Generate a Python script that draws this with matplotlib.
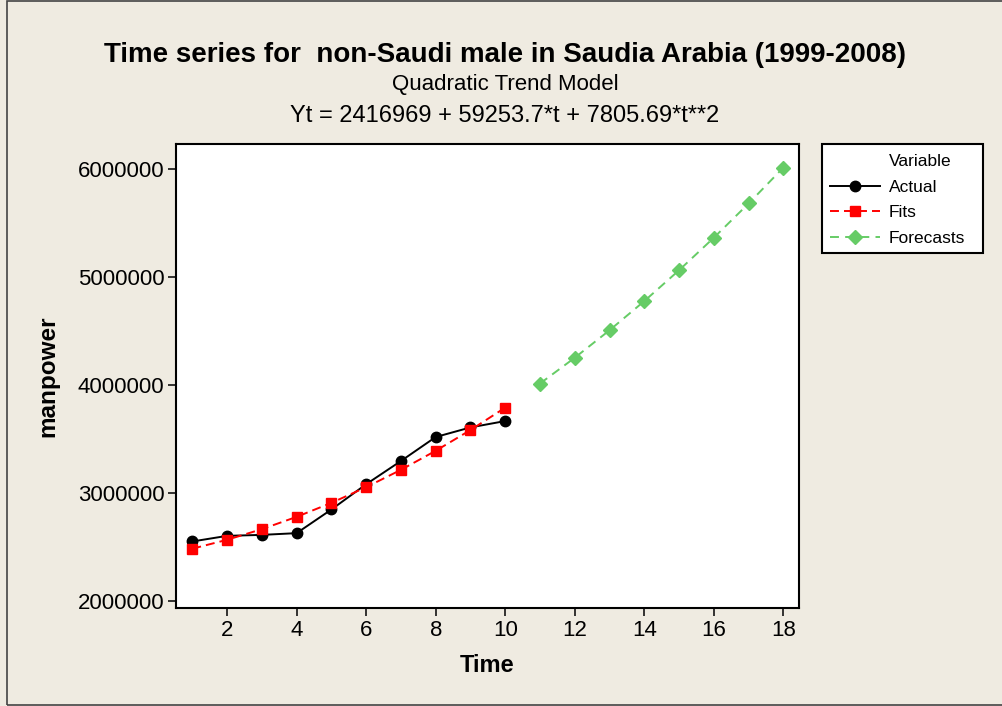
import matplotlib
matplotlib.use("Agg")
import matplotlib.pyplot as plt
from matplotlib.lines import Line2D
from matplotlib.patches import Rectangle

# data (fits / forecasts from the printed trend equation)
t_actual = [1, 2, 3, 4, 5, 6, 7, 8, 9, 10]
actual = [2551000, 2603000, 2612000, 2628000, 2847000, 3081000, 3296000, 3518000, 3607000, 3666000]
fits = [2484028, 2566699, 2664981, 2778875, 2908380, 3053496, 3214224, 3390563, 3582513, 3790075]
t_fore = [11, 12, 13, 14, 15, 16, 17, 18]
forecasts = [4013248, 4252033, 4506429, 4776436, 5062055, 5363285, 5680126, 6012579]

xticks = [2, 4, 6, 8, 10, 12, 14, 16, 18]
yticks = [2000000, 3000000, 4000000, 5000000, 6000000]

bg = '#efebe1'
green = '#66cc66'
W, H = 1003, 706

plt.rcParams['font.family'] = ['Liberation Sans', 'DejaVu Sans']

fig = plt.figure(figsize=(W/100, H/100), dpi=100, facecolor=bg)
ax = fig.add_axes([176/W, 1-608/H, 623/W, 464/H])

ax.plot(t_actual, actual, color='black', lw=1.4, marker='o', ms=7.5, label='Actual')
ax.plot(t_actual, fits, color='red', lw=1.4, marker='s', ms=7, dashes=(4.6, 2.6), label='Fits')
ax.plot(t_fore, forecasts, color=green, lw=1.4, marker='D', ms=7, dashes=(4.6, 3.2), label='Forecasts')

ax.set_xlim(0.53, 18.45)
ax.set_ylim(1935000, 6231000)
ax.set_xticks(xticks)
ax.set_yticks(yticks)
ax.set_yticklabels([str(v) for v in yticks])
ax.tick_params(direction='out', length=5.8, width=1.1, labelsize=16, pad=2.5)
for s in ax.spines.values():
    s.set_linewidth(1.5)

ax.set_xlabel('Time', fontsize=17, fontweight='bold', labelpad=10)
ax.set_ylabel('manpower', fontsize=17.5, fontweight='bold', labelpad=13)

# titles
fig.text(505/W, 1-62/H, 'Time series for  non-Saudi male in Saudia Arabia (1999-2008)',
         ha='center', va='baseline', fontsize=20, fontweight='bold')
fig.text(505/W, 1-90/H, 'Quadratic Trend Model', ha='center', va='baseline', fontsize=16)
fig.text(505/W, 1-122/H, 'Yt = 2416969 + 59253.7*t + 7805.69*t**2', ha='center', va='baseline', fontsize=17)

# legend box
fig.patches.append(Rectangle((822/W, 1-253/H), 161/W, 109/H, transform=fig.transFigure,
                             facecolor='white', edgecolor='black', lw=1.5, zorder=1))
handles, labels = ax.get_legend_handles_labels()
blank = Line2D([], [], linestyle='none')
leg = fig.legend([blank] + handles, ['Variable'] + labels, loc='upper left',
                 bbox_to_anchor=(830/W, 1-154/H), bbox_transform=fig.transFigure,
                 frameon=False, fontsize=12.5, borderpad=0, borderaxespad=0,
                 handlelength=2.9, handletextpad=0.5, labelspacing=0.6)
leg.set_zorder(3)

# thin outer border
fig.patches.append(Rectangle((7/W, 1.5/H), 1.2, 1-2/H, transform=fig.transFigure,
                             facecolor='none', edgecolor='#444444', lw=1.2, zorder=0))

fig.savefig('out.png', dpi=100, facecolor=bg)
